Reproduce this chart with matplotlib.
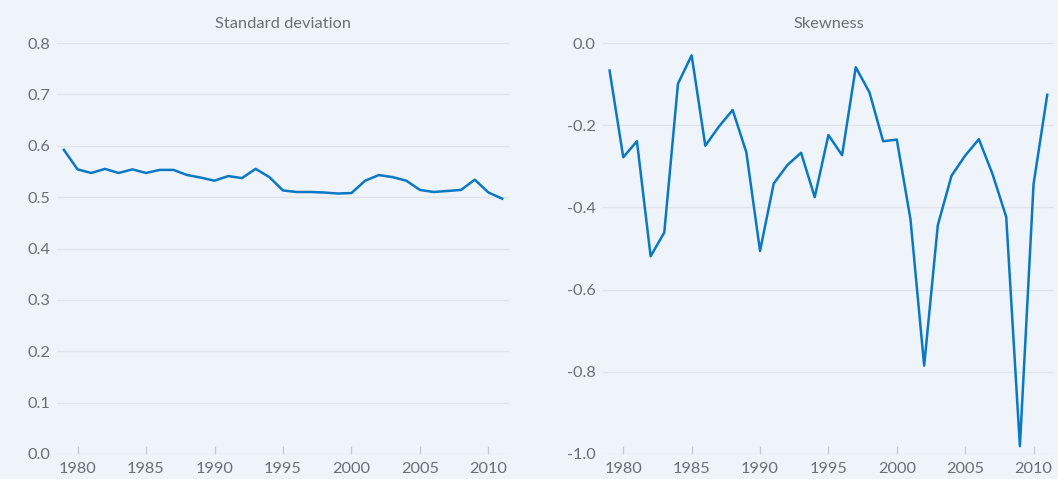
import matplotlib
matplotlib.use("Agg")
import matplotlib.pyplot as plt

years = list(range(1979, 2012))

std_dev = [0.592, 0.554, 0.547, 0.555, 0.547, 0.554, 0.547, 0.553, 0.553, 0.543,
           0.538, 0.532, 0.541, 0.537, 0.555, 0.539, 0.513, 0.510, 0.510, 0.509,
           0.507, 0.508, 0.532, 0.543, 0.539, 0.532, 0.514, 0.510, 0.512, 0.514,
           0.534, 0.509, 0.497]

skewness = [-0.067, -0.278, -0.239, -0.519, -0.461, -0.099, -0.030, -0.250, -0.203, -0.163,
            -0.266, -0.506, -0.342, -0.297, -0.267, -0.375, -0.224, -0.273, -0.059, -0.120,
            -0.239, -0.235, -0.429, -0.785, -0.443, -0.323, -0.274, -0.234, -0.319, -0.423,
            -0.981, -0.343, -0.126]

x_ticks = [1980, 1985, 1990, 1995, 2000, 2005, 2010]
std_ticks = [0.0, 0.1, 0.2, 0.3, 0.4, 0.5, 0.6, 0.7, 0.8]
skew_ticks = [0.0, -0.2, -0.4, -0.6, -0.8, -1.0]

BG = "#eff4fb"
LINE = "#0a78c2"
GRID = "#e1e5eb"
TEXT = "#6b6f76"

plt.rcParams["font.family"] = ["Lato", "DejaVu Sans"]

fig = plt.figure(figsize=(10.58, 4.79), dpi=100, facecolor=BG)
ax1 = fig.add_axes([0.0539, 0.0522, 0.4272, 0.8580])
ax2 = fig.add_axes([0.5697, 0.0522, 0.4266, 0.8580])


def style(ax, yticks, ylim, title):
    ax.set_facecolor(BG)
    ax.set_xlim(1978.5, 2011.5)
    ax.set_ylim(*ylim)
    ax.set_yticks(yticks)
    ax.set_yticklabels([f"{v:.1f}" for v in yticks])
    ax.set_xticks(x_ticks)
    ax.set_xticklabels([str(v) for v in x_ticks])
    for s in ax.spines.values():
        s.set_visible(False)
    ax.grid(axis="y", color=GRID, linewidth=1.0)
    ax.set_axisbelow(True)
    ax.tick_params(axis="y", length=0, pad=5, labelsize=11.8, labelcolor=TEXT)
    ax.tick_params(axis="x", direction="in", length=6, width=1, color="#c8ccd2",
                   pad=6, labelsize=11.8, labelcolor=TEXT)
    ax.set_title(title, color=TEXT, fontsize=11.8, pad=10.5)


style(ax1, std_ticks, (0.0, 0.8), "Standard deviation")
style(ax2, skew_ticks, (-1.0, 0.0), "Skewness")

ax1.plot(years, std_dev, color=LINE, linewidth=1.8, clip_on=False)
ax2.plot(years, skewness, color=LINE, linewidth=1.8, clip_on=False)

fig.savefig("out.png", dpi=100, facecolor=BG)
